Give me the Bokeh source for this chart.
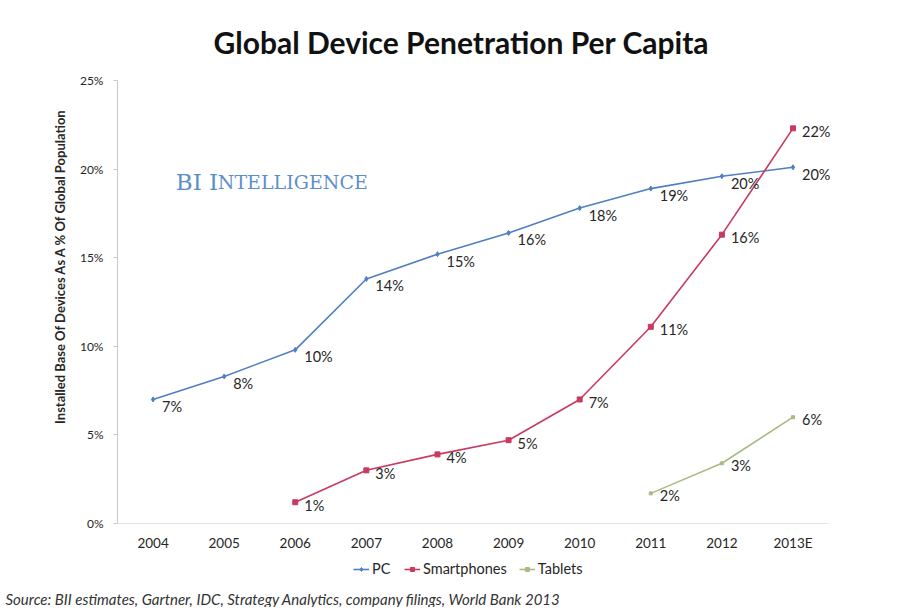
from bokeh.plotting import figure
from bokeh.layouts import column
from bokeh.models import (ColumnDataSource, Range1d, Label, LabelSet, Legend,
                          LegendItem, FixedTicker, Title)
from bokeh.core.properties import value
from bokeh.embed import file_html
from bokeh.resources import INLINE

# ---- data ----
years = ["2004", "2005", "2006", "2007", "2008", "2009", "2010", "2011", "2012", "2013E"]
pc_years = years
pc_values = [7.0, 8.3, 9.8, 13.8, 15.2, 16.4, 17.8, 18.9, 19.6, 20.1]
pc_labels = ["7%", "8%", "10%", "14%", "15%", "16%", "18%", "19%", "20%", "20%"]
smart_years = ["2006", "2007", "2008", "2009", "2010", "2011", "2012", "2013E"]
smart_values = [1.2, 3.0, 3.9, 4.7, 7.0, 11.1, 16.3, 22.3]
smart_labels = ["1%", "3%", "4%", "5%", "7%", "11%", "16%", "22%"]
tab_years = ["2011", "2012", "2013E"]
tab_values = [1.7, 3.4, 6.0]
tab_labels = ["2%", "3%", "6%"]
y_ticks = [0, 5, 10, 15, 20, 25]
y_tick_labels = ["0%", "5%", "10%", "15%", "20%", "25%"]
series_names = ["PC", "Smartphones", "Tablets"]
source_text = "Source: BII estimates, Gartner, IDC, Strategy Analytics, company filings, World Bank 2013"
title_text = "Global Device Penetration Per Capita"
y_title = "Installed Base Of Devices As A % Of Global Population"

FONT = "Lato"
PC_C = "#4f7fc0"
SM_C = "#c83a60"
TB_C = "#a9bb85"
TXT = "#262626"

n = len(years)
x_lo, x_hi = -0.5, n - 0.5
extra = 0.59  # room on the right for the end labels
LB, RB, FW = 117, 30, 753

p = figure(x_range=Range1d(x_lo, x_hi + extra), y_range=Range1d(0, 25),
           frame_width=FW, frame_height=443, output_backend="svg", toolbar_location=None,
           min_border_left=LB, min_border_right=RB, min_border_top=78, min_border_bottom=30)

p.title.text = title_text
p.title.align = "left"
p.title.text_font = FONT
p.title.text_font_size = "30px"
p.title.text_font_style = "bold"
p.title.text_color = "#111111"
p.title.offset = 96
p.title.standoff = 42

p.grid.visible = False
p.outline_line_color = None
p.background_fill_color = "white"
p.border_fill_color = "white"

p.yaxis.ticker = FixedTicker(ticks=y_ticks)
p.yaxis.major_label_overrides = {t: l for t, l in zip(y_ticks, y_tick_labels)}
p.yaxis.minor_tick_line_color = None
p.xaxis.ticker = FixedTicker(ticks=list(range(n)))
p.xaxis.major_label_overrides = {i: y for i, y in enumerate(years)}
p.xaxis.minor_tick_line_color = None
for ax in (p.xaxis, p.yaxis):
    ax.axis_line_color = "#c8c8c8"
    ax.major_tick_line_color = "#c8c8c8"
    ax.major_tick_in = 0
    ax.major_tick_out = 4
    ax.major_label_text_font = FONT
    ax.major_label_text_color = TXT
p.yaxis.major_label_text_font_size = "12px"
p.yaxis.major_label_standoff = 10
p.xaxis.major_label_text_font_size = "13.5px"
p.xaxis.major_tick_line_color = None
p.xaxis.major_tick_out = 0
p.xaxis.axis_line_color = None
p.xaxis.major_label_standoff = 11
# category axis baseline spanning exactly the categories
p.segment(x0=[x_lo], y0=[0], x1=[x_hi], y1=[0], line_color="#c8c8c8", line_width=1)

ylab = Title(text=y_title, text_font=FONT, text_font_size="13px", text_font_style="bold",
             text_color=TXT, align="right", offset=28, standoff=17)
p.add_layout(ylab, "left")

def series(xs, ys, labels, color, marker, msize, yoff):
    src = ColumnDataSource(dict(x=[years.index(v) for v in xs], y=ys, t=labels))
    p.line("x", "y", source=src, line_color=color, line_width=1.6)
    p.scatter("x", "y", source=src, marker=marker, size=msize,
              fill_color=color, line_color=color)
    ls = LabelSet(x="x", y="y", text="t", source=src, x_offset=9, y_offset=-yoff,
                  text_font_size=value("14.5px"), text_color=value(TXT),
                  text_baseline="middle", text_font=value(FONT))
    p.add_layout(ls)

series(pc_years, pc_values, pc_labels, PC_C, "diamond", 5, 7)
series(smart_years, smart_values, smart_labels, SM_C, "square", 5, 3)
series(tab_years, tab_values, tab_labels, TB_C, "square", 3, 2)

wm1 = Label(x=0.32, y=19.3, text="BI I", text_font="DejaVu Serif",
            text_font_size="23px", text_color="#5b8fcc", text_baseline="alphabetic")
wm2 = Label(x=0.32, y=19.3, x_offset=42, text="NTELLIGENCE", text_font="DejaVu Serif",
            text_font_size="19px", text_color="#5b8fcc", text_baseline="alphabetic")
p.add_layout(wm1)
p.add_layout(wm2)

# ---- bottom strip: legend and source note ----
FH2 = 34
p2 = figure(frame_width=FW, frame_height=FH2, x_range=Range1d(0, FW), y_range=Range1d(0, FH2),
            x_axis_location=None, y_axis_location=None, output_backend="svg",
            toolbar_location=None, min_border_left=LB, min_border_right=RB,
            min_border_top=0, min_border_bottom=0)
p2.grid.visible = False
p2.outline_line_color = None
p2.border_fill_color = "white"

items = []
for name, color, marker, msize in zip(series_names, [PC_C, SM_C, TB_C],
                                      ["diamond", "square", "square"], [5, 5, 3]):
    # off-screen point: only the legend swatch is visible
    rl = p2.line(x=[-100, -90], y=[-100, -100], line_color=color, line_width=1.6)
    rm = p2.scatter(x=[-100], y=[-100], marker=marker, size=msize,
                    fill_color=color, line_color=color)
    items.append(LegendItem(label=name, renderers=[rl, rm]))

legend = Legend(items=items, orientation="horizontal", location=(236, 10),
                label_text_font=FONT, label_text_font_size="14.5px", label_text_color=TXT,
                glyph_width=16, glyph_height=10, spacing=12, label_standoff=3,
                border_line_color=None, background_fill_alpha=0, padding=2, margin=0)
p2.add_layout(legend, "center")

src_title = Title(text=source_text, text_font=FONT, text_font_size="15px",
                  text_font_style="italic", text_color="#333333", align="left",
                  offset=-112, standoff=0)
p2.add_layout(src_title, "below")

layout = column(p, p2, spacing=0)
open("out.html", "w").write(file_html(layout, INLINE))
